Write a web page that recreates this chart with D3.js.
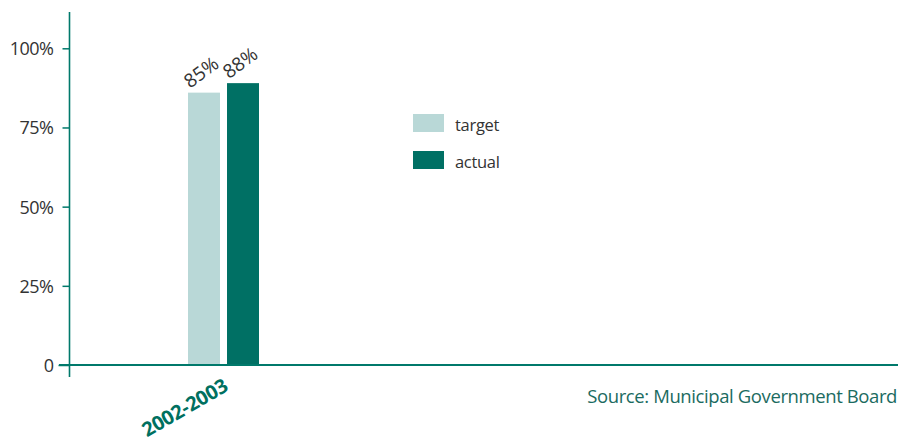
<!DOCTYPE html>
<html>
<head>
<meta charset="utf-8">
<script src="https://cdn.jsdelivr.net/npm/d3@7"></script>
<style>
  body { margin: 0; background: #fff; }
  svg { display: block; font-family: "Open Sans", sans-serif; }
</style>
</head>
<body>
<svg width="908" height="438"></svg>
<script>
// chart data
const categories = ['2002-2003'];
const seriesNames = ['target', 'actual'];
const target = [86];
const actual = [89];
const valueLabels = [['85%'], ['88%']];
const yTicks = [0, 25, 50, 75, 100];
const yTickLabels = ['0', '25%', '50%', '75%', '100%'];
const source = 'Source: Municipal Government Board';

const colors = {target: '#b9d8d7', actual: '#007064'};
const axisColor = '#00796b';

const svg = d3.select('svg');

const y = d3.scaleLinear().domain([0, 100]).range([365, 48.3]);

const x0 = d3.scaleBand().domain(categories).range([188, 259]);
const x1 = d3.scaleBand().domain(seriesNames).range([0, x0.bandwidth()]).paddingInner(0.18);

// y axis
const yAxis = svg.append('g')
  .attr('transform', 'translate(69.5,0)')
  .call(d3.axisLeft(y).tickValues(yTicks).tickSize(7).tickPadding(9)
    .tickFormat((d, i) => yTickLabels[i]));
yAxis.attr('font-family', '"Open Sans", sans-serif').attr('font-size', 18);
yAxis.select('.domain').remove();
yAxis.selectAll('.tick line').attr('stroke', axisColor).attr('stroke-width', 1.5);
yAxis.selectAll('.tick text').attr('fill', '#333').attr('dy', '0.36em').attr('letter-spacing', -0.5);
// longer tick at 0
yAxis.selectAll('.tick').filter(d => d === 0).select('line').attr('x2', -11);
yAxis.selectAll('.tick').filter(d => d === 0).select('text').attr('x', -16);

svg.append('line')
  .attr('x1', 69.5).attr('x2', 69.5)
  .attr('y1', 12).attr('y2', 377)
  .attr('stroke', axisColor).attr('stroke-width', 1.6);

// bars
const rows = categories.map((c, i) => ({cat: c, values: [target[i], actual[i]]}));
const groups = svg.append('g').selectAll('g')
  .data(rows)
  .enter().append('g')
  .attr('transform', d => 'translate(' + x0(d.cat) + ',0)');

groups.selectAll('rect')
  .data(d => d.values.map((v, j) => ({key: seriesNames[j], v: v})))
  .enter().append('rect')
  .attr('x', d => x1(d.key))
  .attr('y', d => y(d.v))
  .attr('width', x1.bandwidth())
  .attr('height', d => y(0) - y(d.v))
  .attr('fill', d => colors[d.key]);

groups.selectAll('text.val')
  .data((d, i) => d.values.map((v, j) => ({key: seriesNames[j], v: v, label: valueLabels[j][i]})))
  .enter().append('text')
  .attr('class', 'val')
  .attr('transform', d => 'translate(' + (x1(d.key) + 2) + ',' + (y(d.v) - 4) + ') rotate(-36)')
  .attr('fill', '#333')
  .attr('font-size', 19)
  .text(d => d.label);

// baseline
svg.append('line')
  .attr('x1', 59).attr('x2', 898)
  .attr('y1', y(0)).attr('y2', y(0))
  .attr('stroke', axisColor).attr('stroke-width', 2);

// category labels
svg.append('g').selectAll('text')
  .data(categories)
  .enter().append('text')
  .attr('transform', d => 'translate(' + (x0(d) + x0.bandwidth() / 2 + 6) + ',390) rotate(-30)')
  .attr('text-anchor', 'end')
  .attr('fill', '#00705f')
  .attr('font-weight', 'bold')
  .attr('font-size', 20)
  .attr('letter-spacing', -0.3)
  .text(d => d);

// legend
const legend = svg.append('g').selectAll('g')
  .data(seriesNames)
  .enter().append('g')
  .attr('transform', (d, i) => 'translate(413,' + (114 + i * 37) + ')');
legend.append('rect')
  .attr('width', 31).attr('height', 18)
  .attr('fill', d => colors[d]);
legend.append('text')
  .attr('x', 42).attr('y', 17)
  .attr('fill', '#333')
  .attr('font-size', 16.5)
  .attr('letter-spacing', -0.3)
  .text(d => d);

// source
svg.append('text')
  .attr('x', 897).attr('y', 403)
  .attr('text-anchor', 'end')
  .attr('fill', '#1b6b5f')
  .attr('font-size', 18.5)
  .attr('letter-spacing', -0.4)
  .text(source);
</script>
</body>
</html>
